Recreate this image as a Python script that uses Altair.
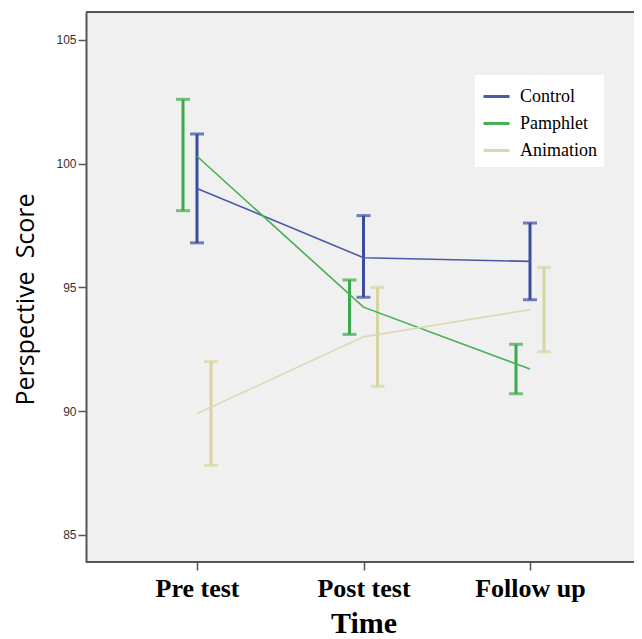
import altair as alt
import pandas as pd

times = ["Pre test", "Post test", "Follow up"]
groups = ["Control", "Pamphlet", "Animation"]

control_mean = [99.0, 96.2, 96.05]
control_lo = [96.8, 94.6, 94.5]
control_hi = [101.2, 97.9, 97.6]

pamphlet_mean = [100.3, 94.2, 91.7]
pamphlet_lo = [98.1, 93.1, 90.7]
pamphlet_hi = [102.6, 95.3, 92.7]

animation_mean = [89.9, 93.0, 94.1]
animation_lo = [87.8, 91.0, 92.4]
animation_hi = [92.0, 95.0, 95.8]

y_ticks = [85, 90, 95, 100, 105]

rows = []
for g, m, lo, hi in [
    ("Control", control_mean, control_lo, control_hi),
    ("Pamphlet", pamphlet_mean, pamphlet_lo, pamphlet_hi),
    ("Animation", animation_mean, animation_lo, animation_hi),
]:
    for t, a, b, c in zip(times, m, lo, hi):
        rows.append({"Time": t, "Group": g, "Mean": a, "Lo": b, "Hi": c})
df = pd.DataFrame(rows)

W, H = 548, 550

x_enc = alt.X(
    "Time:N",
    sort=times,
    scale=alt.Scale(type="point", range=[111, 444], padding=0),
    axis=alt.Axis(
        title="Time",
        titleFont="Liberation Serif",
        titleFontSize=30,
        titleFontWeight="bold",
        titleColor="black",
        titlePadding=7,
        labelFont="Liberation Serif",
        labelFontSize=26,
        labelFontWeight="bold",
        labelColor="black",
        labelPadding=18,
        labelAngle=0,
        labelAlign="center",
        labelBound=False,
        labelOverlap=False,
        tickSize=8,
        tickColor="#555555",
        tickWidth=1.5,
        domain=False,
        grid=False,
    ),
)
y_scale = alt.Scale(domain=[83.9, 106.13], nice=False, zero=False)
y_axis = alt.Axis(
    title="Perspective \u00a0Score",
    titleFont="Open Sans",
    titleFontSize=25,
    titleFontWeight="normal",
    titleColor="black",
    titlePadding=17,
    titleY=287,
    labelFont="Liberation Sans",
    labelFontSize=12,
    labelColor="#333333",
    values=y_ticks,
    tickSize=8,
    tickColor="#555555",
    tickWidth=1.5,
    domainColor="#555555",
    domainWidth=2,
    grid=False,
)

line_colors = alt.Scale(domain=groups, range=["#4a5aa6", "#45b055", "#ddd8b4"])
bar_colors = alt.Scale(domain=groups, range=["#3b4c9c", "#3aaa4c", "#d8d4a0"])
offset_scale = alt.Scale(type="point", domain=["Pamphlet", "Control", "Animation"], range=[-14, 14], padding=0)

base = alt.Chart(df)

lines = base.mark_line(strokeWidth=1.6).encode(
    x=x_enc,
    y=alt.Y("Mean:Q", scale=y_scale, axis=y_axis),
    color=alt.Color(
        "Group:N",
        scale=line_colors,
        sort=groups,
        legend=alt.Legend(
            title=None,
            orient="none",
            legendX=389,
            legendY=63,
            fillColor="white",
            padding=7,
            labelFont="Liberation Serif",
            labelFontSize=18,
            labelColor="black",
            labelOffset=9,
            symbolType="stroke",
            symbolSize=676,
            symbolStrokeWidth=3,
            rowPadding=3,
            labelLimit=200,
        ),
    ),
)

rules = base.mark_rule(strokeWidth=3).encode(
    x=alt.X("Time:N", sort=times),
    xOffset=alt.XOffset("Group:N", scale=offset_scale),
    y=alt.Y("Lo:Q", scale=y_scale),
    y2="Hi:Q",
    color=alt.Color("Group:N", scale=bar_colors, legend=None),
)
caps_lo = base.mark_tick(thickness=3, size=14).encode(
    x=alt.X("Time:N", sort=times),
    xOffset=alt.XOffset("Group:N", scale=offset_scale),
    y=alt.Y("Lo:Q", scale=y_scale),
    color=alt.Color("Group:N", scale=bar_colors, legend=None),
)
caps_hi = base.mark_tick(thickness=3, size=14).encode(
    x=alt.X("Time:N", sort=times),
    xOffset=alt.XOffset("Group:N", scale=offset_scale),
    y=alt.Y("Hi:Q", scale=y_scale),
    color=alt.Color("Group:N", scale=bar_colors, legend=None),
)

border_df = pd.DataFrame({"a": [0]})
top_border = alt.Chart(border_df).mark_rule(color="#555555", strokeWidth=2).encode(
    x=alt.value(0), x2=alt.value(W), y=alt.value(0)
)
bottom_border = alt.Chart(border_df).mark_rule(color="#555555", strokeWidth=2).encode(
    x=alt.value(0), x2=alt.value(W), y=alt.value(H)
)

chart = (
    alt.layer(top_border, bottom_border, rules, caps_lo, caps_hi, lines)
    .resolve_scale(color="independent")
    .properties(
        width=W,
        height=H,
        autosize=alt.AutoSizeParams(type="none"),
        padding={"left": 78, "top": 4, "right": 0, "bottom": 76},
        background="white",
    )
    .configure_view(fill="#f0f0f0", stroke=None)
)

chart.save("out.html", embed_options={"renderer": "svg", "actions": False})
